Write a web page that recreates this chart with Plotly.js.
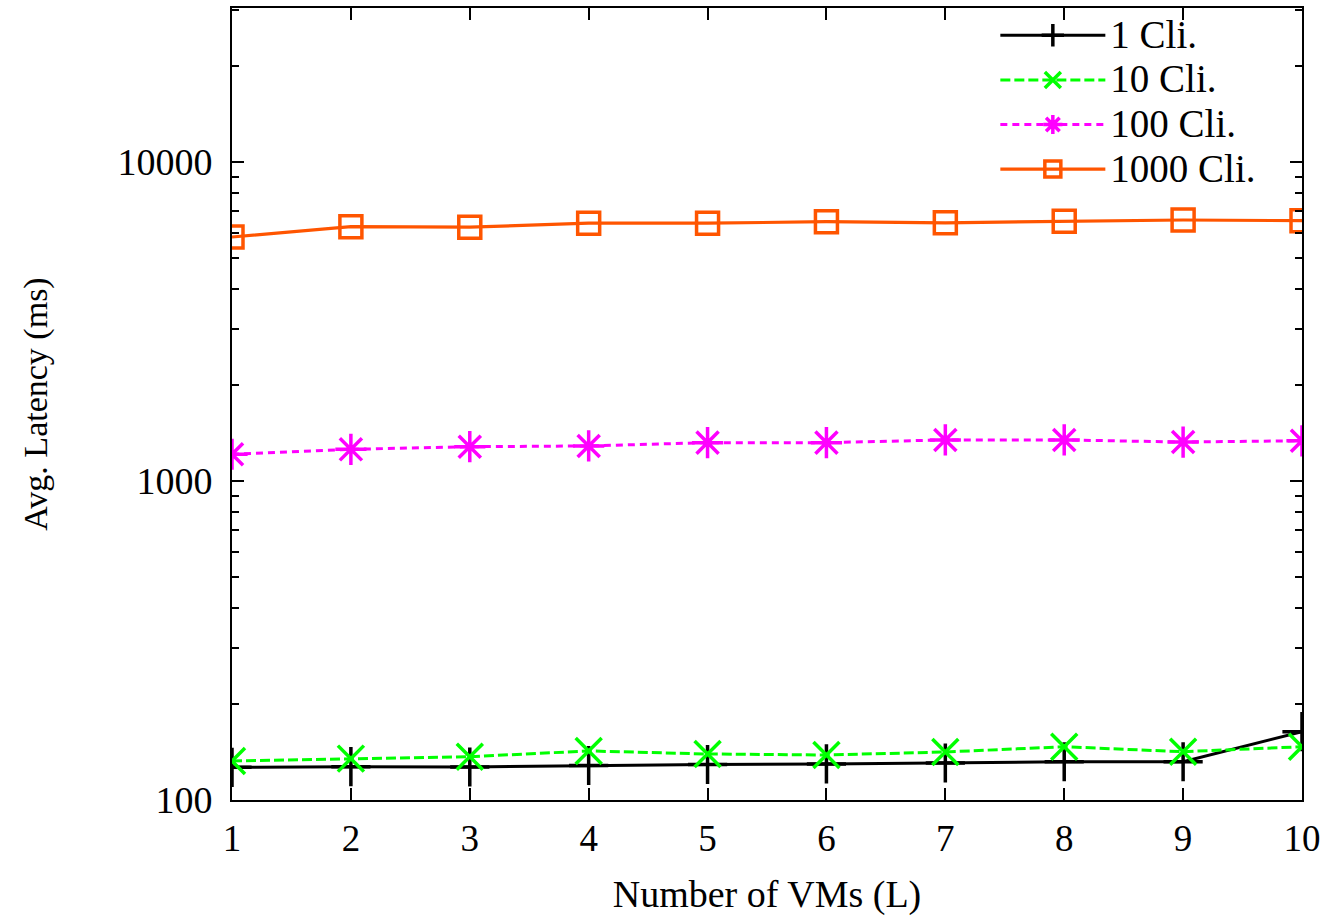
<!DOCTYPE html>
<html>
<head>
<meta charset="utf-8">
<script src="https://cdn.plot.ly/plotly-3.0.1.min.js"></script>
<style>html,body{margin:0;padding:0;background:#fff;}#chart{width:1328px;height:917px;}</style>
</head>
<body>
<div id="chart"></div>
<script>
const vms = [1, 2, 3, 4, 5, 6, 7, 8, 9, 10];
const cli1 = [126.6, 127.2, 126.9, 128.3, 129.2, 129.7, 130.6, 131.8, 131.8, 163.7];
const cli10 = [132.5, 134.8, 136.7, 142.5, 139.4, 138.4, 141.4, 146.9, 141.7, 146.9];
const cli100 = [1213, 1257, 1281, 1288, 1319, 1319, 1345, 1345, 1325, 1337];
const cli1000 = [5820, 6270, 6250, 6430, 6430, 6500, 6450, 6520, 6580, 6550];
const seriesNames = ['1 Cli.', '10 Cli.', '100 Cli.', '1000 Cli.'];
const yMajor = [100, 1000, 10000];
const yMinor = [200,300,400,500,600,700,800,900,2000,3000,4000,5000,6000,7000,8000,9000,20000,30000];

const F = 'Liberation Serif, Times New Roman, serif';
const big = s => '<span style="font-size:39px">' + s + '</span>';

const traces = [
  {x: vms, y: cli1, name: big(seriesNames[0]), mode: 'lines+markers',
   line: {color: '#000000', width: 3},
   marker: {symbol: 'cross-thin', size: 28, line: {color: '#000000', width: 3.5}}},
  {x: vms, y: cli10, name: big(seriesNames[1]), mode: 'lines+markers',
   line: {color: '#00ff00', width: 3, dash: '10px,4px'},
   marker: {symbol: 'x-thin', size: 26, line: {color: '#00ff00', width: 3.5}}},
  {x: vms, y: cli100, name: big(seriesNames[2]), mode: 'lines+markers',
   line: {color: '#ff00ff', width: 3, dash: '7px,5px'},
   marker: {symbol: 'asterisk', size: 26, line: {color: '#ff00ff', width: 3.5}}},
  {x: vms, y: cli1000, name: big(seriesNames[3]), mode: 'lines+markers',
   line: {color: '#ff5500', width: 3.2},
   marker: {symbol: 'square-open', size: 22, color: '#ff5500', line: {color: '#ff5500', width: 3.5}}}
];

const layout = {
  width: 1328, height: 917,
  margin: {l: 232, r: 26, t: 8, b: 117},
  paper_bgcolor: '#ffffff', plot_bgcolor: '#ffffff',
  font: {family: F, size: 36, color: '#000'},
  showlegend: true,
  legend: {x: 0.962, y: 1, xanchor: 'right', yanchor: 'top',
    bgcolor: 'rgba(0,0,0,0)', font: {family: F, size: 32, color: '#000'},
    itemwidth: 105, tracegroupgap: 0},
  xaxis: {
    range: [1, 10], tickvals: vms, ticktext: vms.map(String),
    ticks: 'inside', ticklen: 12, tickwidth: 2, tickcolor: '#000',
    showline: true, linecolor: '#000', linewidth: 2, mirror: 'allticks',
    showgrid: false, zeroline: false,
    tickfont: {family: F, size: 37}, ticklabelstandoff: 5,
    title: {text: 'Number of VMs (L)', font: {family: F, size: 38}, standoff: 22}
  },
  yaxis: {
    type: 'log', range: [2, Math.log10(30400)],
    tickvals: yMajor, ticktext: yMajor.map(String),
    ticks: 'inside', ticklen: 12, tickwidth: 2, tickcolor: '#000',
    minor: {tickvals: yMinor, ticks: 'inside', ticklen: 7, tickwidth: 2, tickcolor: '#000'},
    showline: true, linecolor: '#000', linewidth: 2, mirror: 'allticks',
    showgrid: false, zeroline: false,
    tickfont: {family: F, size: 38}, ticklabelstandoff: 10,
    title: {text: 'Avg. Latency (ms)', font: {family: F, size: 34}, standoff: 60}
  }
};

Plotly.newPlot('chart', traces, layout, {displayModeBar: false, staticPlot: true});
</script>
</body>
</html>
